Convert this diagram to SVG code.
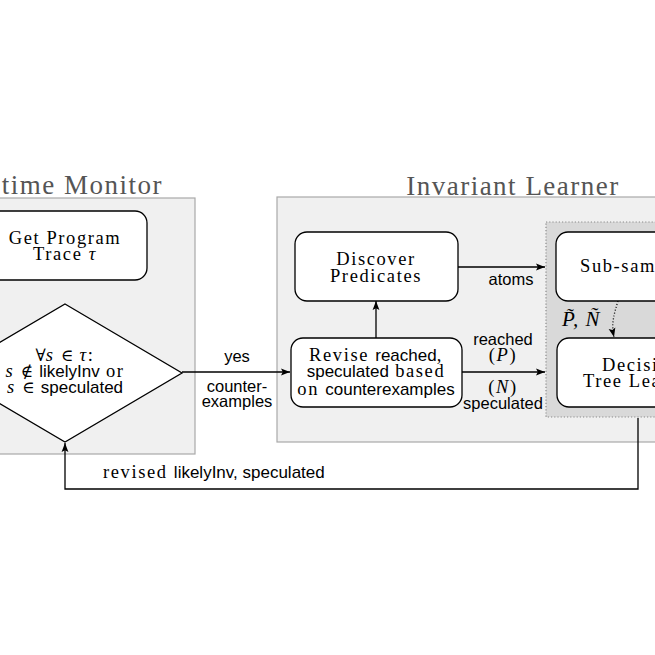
<svg xmlns="http://www.w3.org/2000/svg" width="655" height="655" viewBox="0 0 655 655">
<defs>
<style>
.panel{fill:#f0f0f0;stroke:#a9a9a9;stroke-width:1.2}
.node{fill:#fff;stroke:#000;stroke-width:1.3}
.rm{font-family:"Liberation Serif",serif;font-size:18.5px;letter-spacing:1.6px;fill:#000}
.it{font-family:"Liberation Serif",serif;font-style:italic}
.sym{font-family:"DejaVu Serif",serif;font-size:17px;letter-spacing:0px}
.ss{font-family:"Liberation Sans",sans-serif;font-size:17px;letter-spacing:0px;font-style:normal}
.lb{font-family:"Liberation Sans",sans-serif;font-size:16.5px;fill:#000}
.title{font-family:"Liberation Serif",serif;font-size:27px;letter-spacing:1.5px;fill:#555}
.conn{stroke:#000;stroke-width:1.3;fill:none}
</style>
<marker id="ah" viewBox="0 0 10 10" refX="10" refY="5" markerWidth="9" markerHeight="9" markerUnits="userSpaceOnUse" orient="auto">
<path d="M0,1.2 L10,5 L0,8.8 L2,5 z" fill="#000"/>
</marker>
</defs>
<rect width="655" height="655" fill="#fff"/>

<g id="panel-runtime">
<rect class="panel" x="-65" y="198" width="260" height="256"/>
<text class="title" x="163" y="194" text-anchor="end">time Monitor</text>
</g>
<g id="panel-learner">
<rect class="panel" x="277" y="197" width="460" height="245"/>
<text class="title" x="513" y="195" text-anchor="middle">Invariant Learner</text>
<rect x="546" y="222" width="200" height="195" fill="#d9d9d9" stroke="#8a8a8a" stroke-width="1.2" stroke-dasharray="1.2 2"/>
</g>

<g id="connectors">
<line class="conn" x1="182" y1="372" x2="290" y2="372" marker-end="url(#ah)"/>
<line class="conn" x1="376" y1="338" x2="376" y2="301" marker-end="url(#ah)"/>
<line class="conn" x1="458" y1="267" x2="545" y2="267" marker-end="url(#ah)"/>
<line class="conn" x1="462" y1="372" x2="545" y2="372" marker-end="url(#ah)"/>
<path class="conn" d="M618,301 C614,314 611,324 614,337" stroke-width="1.1" stroke-dasharray="1 2" marker-end="url(#ah)"/>
<polyline class="conn" points="638,418 638,489 65,489 65,443" marker-end="url(#ah)"/>
<text class="lb" x="237" y="362" text-anchor="middle">yes</text>
<text class="lb" x="237" y="392" text-anchor="middle">counter-</text>
<text class="lb" x="237" y="407" text-anchor="middle">examples</text>
<text class="lb" x="511" y="285" text-anchor="middle">atoms</text>
<text class="lb" x="503" y="345" text-anchor="middle">reached</text>
<text class="rm" x="503" y="361" text-anchor="middle">(<tspan class="it">P</tspan>)</text>
<text class="rm" x="503" y="393" text-anchor="middle">(<tspan class="it">N</tspan>)</text>
<text class="lb" x="503" y="409" text-anchor="middle">speculated</text>
<text class="rm" x="562" y="326" style="font-size:21px;font-style:italic;letter-spacing:1px">P̃, Ñ</text>
<text class="rm" x="103" y="478">revised <tspan class="ss">likelyInv, speculated</tspan></text>
</g>

<g id="node-get-trace">
<rect class="node" x="-17" y="211" width="164" height="69" rx="12"/>
<text class="rm" x="65" y="244" text-anchor="middle">Get Program</text>
<text class="rm" x="65" y="260" text-anchor="middle">Trace <tspan class="it">τ</tspan></text>
</g>

<g id="node-check">
<polygon class="node" points="65,304 182,373 65,442 -52,373"/>
<text class="rm" x="65" y="361" text-anchor="middle"><tspan class="sym">∀</tspan><tspan class="it">s</tspan>  <tspan class="sym">∈</tspan>  <tspan class="it">τ</tspan>:</text>
<text class="rm" x="65" y="377" text-anchor="middle"><tspan class="it">s</tspan> <tspan class="sym">∉</tspan> <tspan class="ss">likelyInv</tspan> or</text>
<text class="rm" x="65" y="393" text-anchor="middle"><tspan class="it">s</tspan> <tspan class="sym">∈</tspan> <tspan class="ss">speculated</tspan></text>
</g>

<g id="node-discover">
<rect class="node" x="295" y="232" width="163" height="69" rx="12"/>
<text class="rm" x="376" y="265" text-anchor="middle">Discover</text>
<text class="rm" x="376" y="282" text-anchor="middle">Predicates</text>
</g>

<g id="node-revise">
<rect class="node" x="291" y="338" width="171" height="69" rx="12"/>
<text class="rm" x="376" y="361" text-anchor="middle">Revise <tspan class="ss">reached</tspan>,</text>
<text class="rm" x="376" y="377" text-anchor="middle"><tspan class="ss">speculated</tspan> based</text>
<text class="rm" x="376" y="395" text-anchor="middle">on <tspan class="ss">counterexamples</tspan></text>
</g>

<g id="node-subsample">
<rect class="node" x="556" y="232" width="170" height="69" rx="12"/>
<text class="rm" x="580" y="272">Sub-sam</text>
</g>

<g id="node-decision">
<rect class="node" x="557" y="338" width="170" height="69" rx="12"/>
<text class="rm" x="602" y="371">Decisi</text>
<text class="rm" x="583" y="387">Tree Lea</text>
</g>
</svg>
